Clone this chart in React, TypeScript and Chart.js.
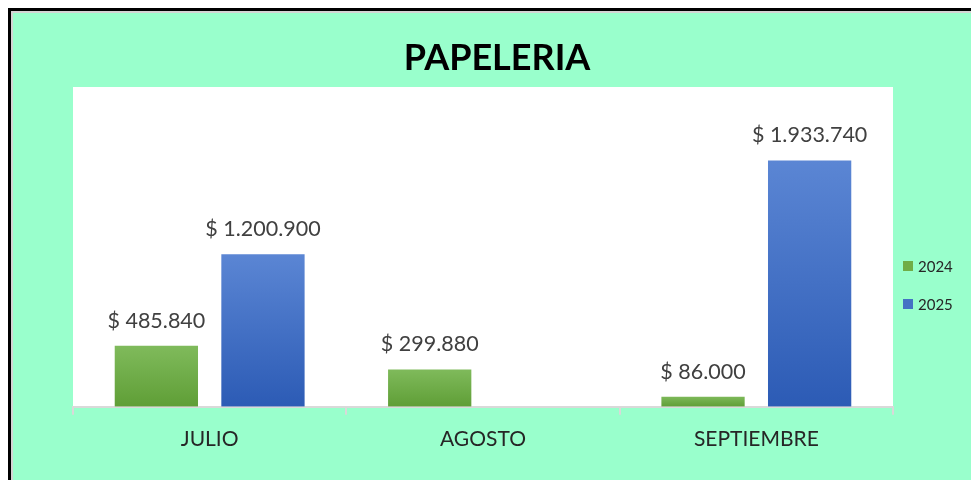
import React, { useEffect, useRef } from "react";
import { Chart, registerables } from "chart.js";

Chart.register(...registerables);

const categories = ["JULIO", "AGOSTO", "SEPTIEMBRE"];
const seriesNames = ["2024", "2025"];
const values2024: (number | null)[] = [485840, 299880, 86000];
const values2025: (number | null)[] = [1200900, null, 1933740];
const yMax = 2500000;
const titleText = "PAPELERIA";

const FONT = "Lato, 'Open Sans', sans-serif";
const greenTop = "#80BB5C";
const greenBottom = "#5F9E36";
const blueTop = "#5B86D4";
const blueBottom = "#2C5BB5";

function fmt(n: number): string {
  return "$ " + String(Math.round(n)).replace(/\B(?=(\d{3})+(?!\d))/g, ".");
}

function gradientFill(top: string, bottom: string, solid: string) {
  return (context: any) => {
    const chart = context.chart;
    const y = chart.scales && chart.scales.y;
    const v = context.raw;
    if (!y || v == null || !chart.chartArea) return solid;
    const yTop = y.getPixelForValue(v);
    const yBot = y.getPixelForValue(0);
    if (!isFinite(yTop) || !isFinite(yBot) || yTop === yBot) return solid;
    const g = chart.ctx.createLinearGradient(0, yTop, 0, yBot);
    g.addColorStop(0, top);
    g.addColorStop(1, bottom);
    return g;
  };
}

const plotBg = {
  id: "plotBg",
  beforeDraw(chart: any) {
    const { ctx, chartArea } = chart;
    ctx.save();
    ctx.fillStyle = "#ffffff";
    ctx.fillRect(chartArea.left, chartArea.top, chartArea.right - chartArea.left, chartArea.bottom - chartArea.top);
    ctx.restore();
  },
};

const titlePlugin = {
  id: "customTitle",
  afterDraw(chart: any) {
    const { ctx } = chart;
    ctx.save();
    ctx.font = `bold 36px ${FONT}`;
    ctx.fillStyle = "#000000";
    ctx.textAlign = "center";
    ctx.textBaseline = "middle";
    ctx.fillText(titleText, chart.width / 2 + 5, 45);
    ctx.restore();
  },
};

const valueLabels = {
  id: "valueLabels",
  afterDatasetsDraw(chart: any) {
    const { ctx } = chart;
    ctx.save();
    ctx.font = `21.5px ${FONT}`;
    ctx.fillStyle = "#404040";
    ctx.textAlign = "center";
    ctx.textBaseline = "alphabetic";
    chart.data.datasets.forEach((ds: any, di: number) => {
      const meta = chart.getDatasetMeta(di);
      meta.data.forEach((el: any, i: number) => {
        const v = ds.data[i];
        if (v == null) return;
        ctx.fillText(fmt(v), el.x, el.y - 17);
      });
    });
    ctx.restore();
  },
};

const legendPlugin = {
  id: "customLegend",
  afterDraw(chart: any) {
    const { ctx, chartArea } = chart;
    ctx.save();
    ctx.font = `15px ${FONT}`;
    ctx.fillStyle = "#262626";
    ctx.textBaseline = "middle";
    ctx.textAlign = "left";
    chart.data.datasets.forEach((ds: any, i: number) => {
      const cy = 253 + i * 38;
      const x = chartArea.right + 10;
      ctx.fillStyle = ds.legendColor;
      ctx.fillRect(x, cy - 5, 10, 10);
      ctx.fillStyle = "#262626";
      ctx.fillText(ds.label, x + 15, cy + 1);
    });
    ctx.restore();
  },
};

export default function App() {
  const ref = useRef<HTMLCanvasElement | null>(null);

  useEffect(() => {
    if (!ref.current) return;
    const chart = new Chart(ref.current, {
      type: "bar",
      data: {
        labels: categories,
        datasets: [
          {
            label: seriesNames[0],
            data: values2024,
            backgroundColor: gradientFill(greenTop, greenBottom, "#70AD47"),
            borderColor: "rgba(255,255,255,0.25)",
            borderWidth: 1,
            legendColor: "#70AD47",
            barPercentage: 0.8,
            categoryPercentage: 0.78,
          } as any,
          {
            label: seriesNames[1],
            data: values2025,
            backgroundColor: gradientFill(blueTop, blueBottom, "#4472C4"),
            borderColor: "rgba(255,255,255,0.25)",
            borderWidth: 1,
            legendColor: "#4472C4",
            barPercentage: 0.8,
            categoryPercentage: 0.78,
          } as any,
        ],
      },
      options: {
        responsive: false,
        animation: false,
        devicePixelRatio: 1,
        layout: { padding: { left: 60, right: 78, top: 74, bottom: 16 } },
        plugins: {
          legend: { display: false },
          title: { display: false },
          tooltip: { enabled: false },
        },
        scales: {
          x: {
            type: "category",
            offset: true,
            grid: {
              offset: true,
              drawOnChartArea: false,
              drawTicks: true,
              tickLength: 8,
              color: "#d9d9d9",
              lineWidth: 2,
            },
            border: { display: true, color: "#d9d9d9", width: 2 },
            ticks: {
              color: "#262626",
              font: { family: FONT, size: 21 },
              padding: 12,
            },
          },
          y: {
            display: false,
            min: 0,
            max: yMax,
          },
        },
      },
      plugins: [plotBg, titlePlugin, valueLabels, legendPlugin],
    });
    return () => chart.destroy();
  }, []);

  return (
    <div
      style={{
        position: "fixed",
        left: 8,
        top: 8,
        right: 0,
        bottom: 0,
        borderLeft: "3px solid #000",
        borderTop: "3px solid #000",
        background: "#99FFCC",
        boxSizing: "border-box",
        overflow: "hidden",
      }}
    >
      <div
        style={{
          position: "absolute",
          left: 0,
          top: 0,
          right: 0,
          bottom: 0,
          borderLeft: "2px solid #d4d4d4",
          borderTop: "2px solid #d4d4d4",
          boxSizing: "border-box",
        }}
      >
        <canvas ref={ref} width={958} height={467} style={{ display: "block", width: 958, height: 467 }} />
      </div>
    </div>
  );
}
